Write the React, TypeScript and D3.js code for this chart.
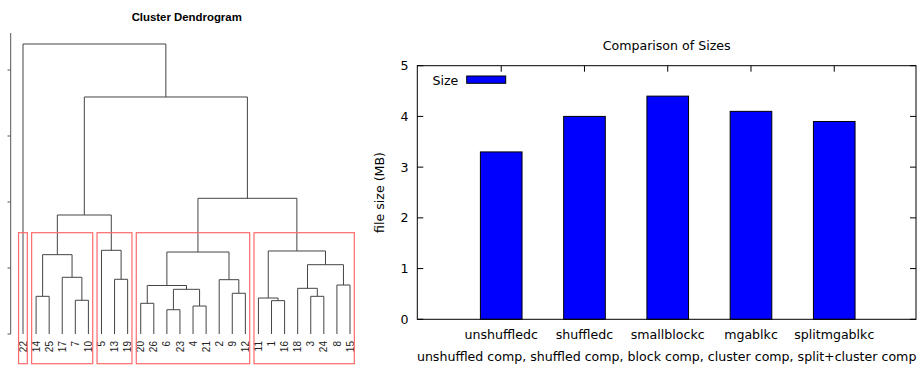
import React from "react";
import * as d3 from "d3";

// ---------- Dendrogram data ----------
const leafOrder = [22, 14, 25, 17, 7, 10, 5, 13, 19, 20, 26, 6, 23, 4, 21, 2, 9, 12, 11, 1, 16, 18, 3, 24, 8, 15];
// R-style merge matrix: negative = leaf label, positive = earlier merge (1-based)
const mergeLeft = [-6, -4, -20, -1, -7, -11, -14, -3, -9, 1, -18, 3, -8, -2, -13, -17, 11, 7, 12, 6, -5, 18, 19, 22, -22];
const mergeRight = [-23, -21, -26, -16, -10, 4, -25, -24, -12, 2, 8, 10, -15, 9, -19, 5, 13, 16, 14, 17, 15, 21, 20, 23, 24];
const mergeHeight = [0.368, 0.424, 0.465, 0.505, 0.511, 0.545, 0.571, 0.571, 0.617, 0.677, 0.692, 0.735, 0.742, 0.823, 0.829, 0.859, 1.05, 1.202, 1.242, 1.258, 1.268, 1.803, 2.056, 3.591, 4.394];
const clusterSizes = [1, 5, 3, 9, 8];
const cutHeight = 1.535;
const dendroTicks = [0, 1, 2, 3, 4];
const dendroTitle = "Cluster Dendrogram";

// ---------- Bar chart data ----------
const categories = ["unshuffledc", "shuffledc", "smallblockc", "mgablkc", "splitmgablkc"];
const sizes = [3.3, 4.0, 4.4, 4.1, 3.9];
const yTicks = [0, 1, 2, 3, 4, 5];
const barTitle = "Comparison of Sizes";
const seriesName = "Size";
const yLabel = "file size (MB)";
const xLabel = "unshuffled comp, shuffled comp, block comp, cluster comp, split+cluster comp";

const W = 922;
const H = 365;

function Dendrogram() {
  const xD = d3.scaleLinear().domain([0, leafOrder.length - 1]).range([23, 350]);
  const yD = d3.scaleLinear().domain([0, 4]).range([334, 70]);

  const nodeX: number[] = [];
  const nodeH: number[] = [];
  const posOf = (ref: number) => (ref < 0 ? leafOrder.indexOf(-ref) : nodeX[ref - 1]);
  const hOf = (ref: number) => (ref < 0 ? 0 : nodeH[ref - 1]);

  const paths: string[] = [];
  mergeHeight.forEach((h, i) => {
    const l = mergeLeft[i];
    const r = mergeRight[i];
    const xl = posOf(l);
    const xr = posOf(r);
    nodeX.push((xl + xr) / 2);
    nodeH.push(h);
    const p = d3.path();
    p.moveTo(xD(xl), yD(hOf(l)));
    p.lineTo(xD(xl), yD(h));
    p.lineTo(xD(xr), yD(h));
    p.lineTo(xD(xr), yD(hOf(r)));
    paths.push(p.toString());
  });

  const rects: { x0: number; x1: number }[] = [];
  let start = 0;
  clusterSizes.forEach((n) => {
    rects.push({ x0: start - 0.34, x1: start + n - 1 + 0.33 });
    start += n;
  });

  const axisX = 10.7;
  return (
    <g>
      <text x={186.7} y={21} textAnchor="middle" fontFamily="Liberation Sans, Arial, sans-serif" fontWeight="bold" fontSize={11.4} fill="#000">
        {dendroTitle}
      </text>
      <line x1={axisX} x2={axisX} y1={yD(0)} y2={yD(4.56)} stroke="#555" strokeWidth={1} />
      {dendroTicks.map((t) => (
        <line key={t} x1={axisX - 3.2} x2={axisX} y1={yD(t)} y2={yD(t)} stroke="#555" strokeWidth={1} />
      ))}
      {paths.map((d, i) => (
        <path key={i} d={d} fill="none" stroke="#444" strokeWidth={1} />
      ))}
      {leafOrder.map((lab, i) => (
        <text
          key={lab}
          transform={`translate(${xD(i) + 3.6},${341}) rotate(-90)`}
          textAnchor="end"
          fontFamily="Liberation Sans, Arial, sans-serif"
          fontSize={10}
          fill="#222"
        >
          {lab}
        </text>
      ))}
      {rects.map((r, i) => (
        <rect
          key={i}
          x={xD(r.x0)}
          y={yD(cutHeight)}
          width={xD(r.x1) - xD(r.x0)}
          height={yD(-0.45) - yD(cutHeight)}
          fill="none"
          stroke="#ff6a6a"
          strokeWidth={1.2}
        />
      ))}
    </g>
  );
}

function BarChart() {
  const left = 417.3;
  const right = 916;
  const top = 65.7;
  const bottom = 319.3;
  const x = d3.scaleLinear().domain([-1.008, 4.982]).range([left, right]);
  const y = d3.scaleLinear().domain([0, 5]).range([bottom, top]);
  const bw = x(0.5) - x(0);
  const font = "DejaVu Sans, sans-serif";
  const fs = 12.6;
  const tl = 6;

  return (
    <g>
      <text x={(left + right) / 2} y={50} textAnchor="middle" fontFamily={font} fontSize={fs} fill="#000">
        {barTitle}
      </text>
      {/* y ticks */}
      {yTicks.map((t) => (
        <g key={t}>
          <line x1={left} x2={left + tl} y1={y(t)} y2={y(t)} stroke="#000" strokeWidth={1} />
          <line x1={right - tl} x2={right} y1={y(t)} y2={y(t)} stroke="#000" strokeWidth={1} />
          <text x={408.5} y={y(t) + 4.5} textAnchor="end" fontFamily={font} fontSize={fs} fill="#000">
            {t}
          </text>
        </g>
      ))}
      {/* x ticks */}
      {categories.map((c, i) => (
        <g key={c}>
          <line x1={x(i)} x2={x(i)} y1={top} y2={top + tl} stroke="#000" strokeWidth={1} />
          <line x1={x(i)} x2={x(i)} y1={bottom} y2={bottom - tl} stroke="#000" strokeWidth={1} />
          <text x={x(i)} y={338.5} textAnchor="middle" fontFamily={font} fontSize={fs} fill="#000">
            {c}
          </text>
        </g>
      ))}
      {/* bars */}
      {sizes.map((v, i) => (
        <rect
          key={i}
          x={x(i) - bw / 2}
          y={y(v)}
          width={bw}
          height={y(0) - y(v)}
          fill="#0000ff"
          stroke="#000"
          strokeWidth={1}
        />
      ))}
      {/* frame */}
      <rect x={left} y={top} width={right - left} height={bottom - top} fill="none" stroke="#000" strokeWidth={1} />
      {/* legend */}
      <text x={458.3} y={85} textAnchor="end" fontFamily={font} fontSize={fs} fill="#000">
        {seriesName}
      </text>
      <rect x={466.7} y={76} width={39} height={7.3} fill="#0000ff" stroke="#000" strokeWidth={1} />
      {/* axis labels */}
      <text
        transform={`translate(${384},${(top + bottom) / 2}) rotate(-90)`}
        textAnchor="middle"
        fontFamily={font}
        fontSize={fs}
        fill="#000"
      >
        {yLabel}
      </text>
      <text x={(left + right) / 2} y={361} textAnchor="middle" fontFamily={font} fontSize={fs} fill="#000">
        {xLabel}
      </text>
    </g>
  );
}

export default function App() {
  return (
    <svg
      width={W}
      height={H}
      viewBox={`0 0 ${W} ${H}`}
      style={{ position: "absolute", left: 0, top: 0, background: "#fff" }}
    >
      <rect x={0} y={0} width={W} height={H} fill="#fff" />
      <Dendrogram />
      <BarChart />
    </svg>
  );
}
